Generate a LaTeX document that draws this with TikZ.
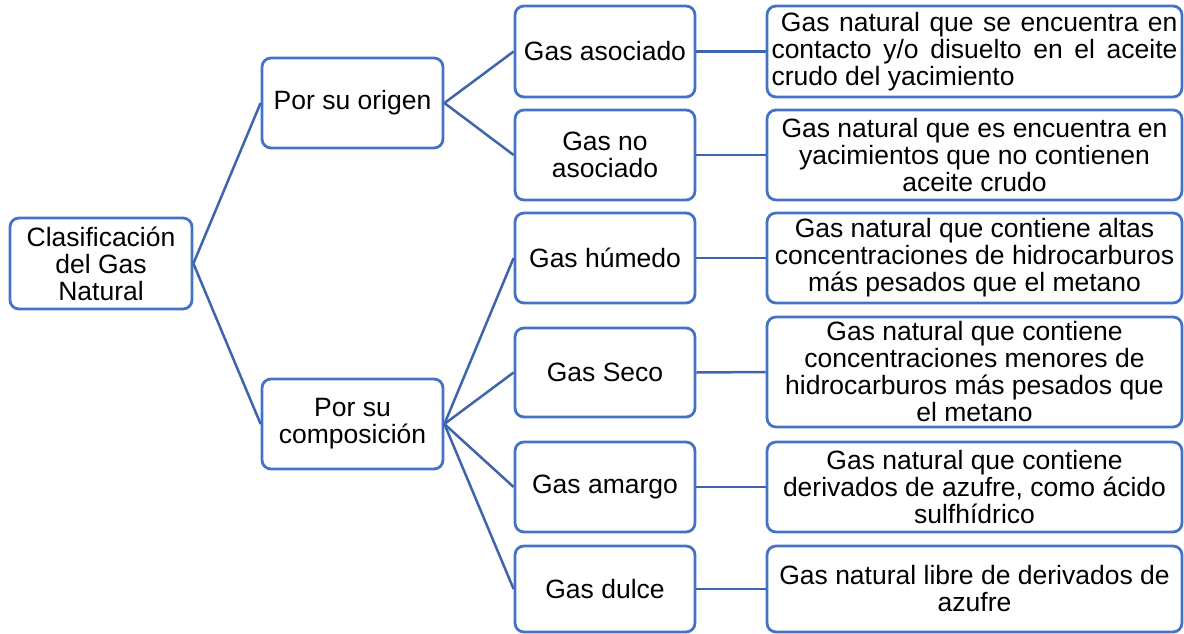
\documentclass[tikz,border=0pt]{standalone}
\usepackage{fontspec}
\setmainfont{Liberation Sans}
\definecolor{boxblue}{HTML}{4472C4}
\definecolor{lineblue}{HTML}{3F64AE}
\begin{document}
\begin{tikzpicture}[x=1pt,y=-1pt,
  box/.style={draw=boxblue, line width=2.8pt, rounded corners=9pt, fill=white,
    align=center, inner sep=0pt, font=\fontsize{26.5}{27}\selectfont},
  lvone/.style={box, minimum width=181pt, minimum height=90pt},
  lvtwo/.style={box, minimum width=180pt},
  desc/.style={box, minimum width=415pt},
  conn/.style={draw=lineblue, line width=2.5pt}]
\useasboundingbox (0,0) rectangle (1184,634);

\node[box, minimum width=182pt, minimum height=91pt] (root) at (101,263.5) {Clasificación\\del Gas\\Natural};
\node[lvone] (orig) at (352.5,103) {Por su origen};
\node[lvone] (comp) at (352.5,424) {Por su\\composición};

\node[lvtwo, minimum height=91pt] (a1) at (605,51.5) {Gas asociado};
\node[lvtwo, minimum height=90pt] (a2) at (605,155) {Gas no\\asociado};
\node[lvtwo, minimum height=90pt] (c1) at (605,258) {Gas húmedo};
\node[lvtwo, minimum height=89pt] (c2) at (605,372.5) {Gas Seco};
\node[lvtwo, minimum height=90pt] (c3) at (605,487) {Gas amargo};
\node[lvtwo, minimum height=86pt] (c4) at (605,589) {Gas dulce};

\node[desc, minimum height=91pt] (d1) at (974.5,51.5) {\parbox{406pt}{\ Gas natural que se encuentra en\linebreak contacto y/o disuelto en el aceite\linebreak crudo del yacimiento}};
\node[desc, minimum height=90pt] (d2) at (974.5,155) {Gas natural que es encuentra en\\yacimientos que no contienen\\aceite crudo};
\node[desc, minimum height=90pt] (d3) at (974.5,258) {Gas natural que contiene altas\\concentraciones de hidrocarburos\\más pesados que el metano};
\node[desc, minimum height=110pt] (d4) at (974.5,372) {Gas natural que contiene\\concentraciones menores de\\hidrocarburos más pesados que\\el metano};
\node[desc, minimum height=90pt] (d5) at (974.5,487) {Gas natural que contiene\\derivados de azufre, como ácido\\sulfhídrico};
\node[desc, minimum height=86pt] (d6) at (974.5,589) {Gas natural libre de derivados de\\azufre};

\draw[conn] (root.east) -- (orig.west);
\draw[conn] (root.east) -- (comp.west);
\draw[conn] (orig.east) -- (a1.west);
\draw[conn] (orig.east) -- (a2.west);
\draw[conn] (comp.east) -- (c1.west);
\draw[conn] (comp.east) -- (c2.west);
\draw[conn] (comp.east) -- (c3.west);
\draw[conn] (comp.east) -- (c4.west);
\draw[conn] (a1.east) -- (d1.west);
\draw[conn] (a2.east) -- (d2.west);
\draw[conn] (c1.east) -- (d3.west);
\draw[conn] (c2.east) -- (d4.west);
\draw[conn] (c3.east) -- (d5.west);
\draw[conn] (c4.east) -- (d6.west);
\end{tikzpicture}
\end{document}
